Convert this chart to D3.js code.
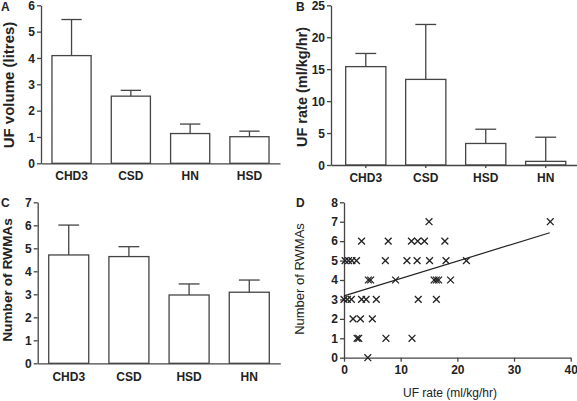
<!DOCTYPE html>
<html><head><meta charset="utf-8">
<script src="https://cdn.jsdelivr.net/npm/d3@7"></script>
<style>
html,body{margin:0;padding:0;background:#fff;}
svg{display:block;font-family:"Liberation Sans",Arial,sans-serif;}
</style></head>
<body>
<svg id="chart" width="577" height="401"></svg>
<script>
// ---- Data ----
const catsA = ["CHD3", "CSD", "HN", "HSD"];
const ufVolume = [4.09, 2.55, 1.13, 1.01];
const ufVolumeErr = [1.37, 0.22, 0.36, 0.21];

const catsB = ["CHD3", "CSD", "HSD", "HN"];
const ufRate = [15.4, 13.4, 3.37, 0.57];
const ufRateErr = [2.06, 8.6, 2.23, 3.78];

const catsC = ["CHD3", "CSD", "HSD", "HN"];
const rwma = [4.71, 4.64, 2.97, 3.09];
const rwmaErr = [1.3, 0.43, 0.48, 0.53];

const scatterX = [15.0, 36.4,
  3.1, 7.8, 11.9, 13.0, 14.2, 17.8,
  0.2, 0.8, 1.4, 2.2, 7.3, 11.1, 12.9, 15.1, 18.0, 21.6,
  4.3, 4.7, 9.1, 15.9, 16.3, 16.7, 18.8,
  0.0, 0.6, 1.3, 3.1, 3.9, 5.7, 13.1, 16.3,
  1.6, 2.9, 5.0,
  2.3, 2.6, 7.4, 12.0,
  4.2];
const scatterY = [7, 7,
  6, 6, 6, 6, 6, 6,
  5, 5, 5, 5, 5, 5, 5, 5, 5, 5,
  4, 4, 4, 4, 4, 4, 4,
  3, 3, 3, 3, 3, 3, 3, 3,
  2, 2, 2,
  1, 1, 1, 1,
  0];
const fitX = [0, 36.3];
const fitY = [3.18, 6.43];

const ticksA = [0, 1, 2, 3, 4, 5, 6];
const ticksB = [0, 5, 10, 15, 20, 25];
const ticksC = [0, 1, 2, 3, 4, 5, 6, 7];
const ticksDy = [0, 1, 2, 3, 4, 5, 6, 7, 8];
const ticksDx = [0, 10, 20, 30, 40];

// ---- Drawing ----
const svg = d3.select("#chart");
svg.append("rect").attr("width", 577).attr("height", 401).attr("fill", "#fff");
const INK = "#222";
const AX = "#444";
const fmt = d3.format("d");

function styleAxis(g, fs) {
  g.selectAll("path.domain").attr("stroke", AX).attr("stroke-width", 1.3);
  g.selectAll(".tick line").attr("stroke", AX).attr("stroke-width", 1.3);
  g.selectAll(".tick text").attr("fill", INK).attr("font-size", fs)
    .attr("font-weight", "bold").attr("font-family", "Liberation Sans, Arial, sans-serif");
}

function barPanel(cfg) {
  const y = d3.scaleLinear().domain([0, cfg.ymax]).range([cfg.y0, cfg.yTop]);
  const x = d3.scaleBand().domain(cfg.cats).range([cfg.x0, cfg.x1])
    .paddingInner(cfg.pin).paddingOuter(cfg.pout);
  const g = svg.append("g");
  const cap = x.bandwidth() * 0.26;
  cfg.cats.forEach((c, i) => {
    const cx = x(c) + x.bandwidth() / 2;
    const top = y(cfg.vals[i] + cfg.errs[i]);
    g.append("line").attr("x1", cx).attr("x2", cx)
      .attr("y1", y(cfg.vals[i])).attr("y2", top)
      .attr("stroke", AX).attr("stroke-width", 1.3);
    g.append("line").attr("x1", cx - cap).attr("x2", cx + cap)
      .attr("y1", top).attr("y2", top)
      .attr("stroke", AX).attr("stroke-width", 1.3);
  });
  g.selectAll("rect.bar").data(cfg.cats).enter().append("rect")
    .attr("x", d => x(d)).attr("width", x.bandwidth())
    .attr("y", (d, i) => y(cfg.vals[i]))
    .attr("height", (d, i) => y(0) - y(cfg.vals[i]))
    .attr("fill", "#fff").attr("stroke", AX).attr("stroke-width", 1.3);
  const ya = g.append("g").attr("transform", `translate(${cfg.x0},0)`)
    .call(d3.axisLeft(y).tickValues(cfg.ticks).tickFormat(fmt).tickSize(4).tickPadding(2).tickSizeOuter(0));
  styleAxis(ya, 12);
  ya.selectAll(".tick text").attr("dy", "0.34em");
  const xa = g.append("g").attr("transform", `translate(0,${cfg.y0})`)
    .call(d3.axisBottom(x).tickSize(cfg.xtick).tickPadding(cfg.xpad - cfg.xtick).tickSizeOuter(0));
  styleAxis(xa, 12);
  g.append("text").attr("transform", `translate(${cfg.titleX},${cfg.titleY}) rotate(-90)`)
    .attr("text-anchor", "middle").attr("font-weight", "bold")
    .attr("font-size", cfg.titleFs).attr("fill", INK).text(cfg.title);
  g.append("text").attr("x", cfg.letterX).attr("y", cfg.letterY)
    .attr("font-weight", "bold").attr("font-size", 12).attr("fill", INK).text(cfg.letter);
}

barPanel({cats: catsA, vals: ufVolume, errs: ufVolumeErr, ymax: 6, ticks: ticksA,
  x0: 41, x1: 280, y0: 163.3, yTop: 5.3, pin: 0.34, pout: 0.185, xtick: 0, xpad: 8,
  title: "UF volume (litres)", titleFs: 15, titleX: 14, titleY: 85,
  letter: "A", letterX: 1, letterY: 11});

barPanel({cats: catsB, vals: ufRate, errs: ufRateErr, ymax: 25, ticks: ticksB,
  x0: 331, x1: 580.5, y0: 165, yTop: 5.3, pin: 0.33, pout: 0.245, xtick: 3, xpad: 8,
  title: "UF rate (ml/kg/hr)", titleFs: 14.5, titleX: 307, titleY: 87,
  letter: "B", letterX: 296, letterY: 11});

barPanel({cats: catsC, vals: rwma, errs: rwmaErr, ymax: 7, ticks: ticksC,
  x0: 37.7, x1: 280.3, y0: 363.3, yTop: 202.3, pin: 0.335, pout: 0.183, xtick: 0, xpad: 9,
  title: "Number of RWMAs", titleFs: 13.7, titleX: 12, titleY: 280,
  letter: "C", letterX: 1, letterY: 207});

// ---- Panel D scatter ----
(function () {
  const x = d3.scaleLinear().domain([0, 40]).range([344, 570.7]);
  const y = d3.scaleLinear().domain([0, 8]).range([357.7, 202.3]);
  const g = svg.append("g");
  const ya = g.append("g").attr("transform", "translate(344,0)")
    .call(d3.axisLeft(y).tickValues(ticksDy).tickFormat(fmt).tickSize(4).tickPadding(2).tickSizeOuter(0));
  styleAxis(ya, 12);
  const xa = g.append("g").attr("transform", "translate(0,357.7)")
    .call(d3.axisBottom(x).tickValues(ticksDx).tickFormat(fmt).tickSize(4).tickPadding(4).tickSizeOuter(0));
  styleAxis(xa, 12);
  const r = 3.4;
  const pts = scatterX.map((v, i) => [x(v), y(scatterY[i])]);
  g.selectAll("path.pt").data(pts).enter().append("path")
    .attr("d", d => `M${d[0]-r},${d[1]-r}L${d[0]+r},${d[1]+r}M${d[0]-r},${d[1]+r}L${d[0]+r},${d[1]-r}`)
    .attr("stroke", INK).attr("stroke-width", 1.3).attr("fill", "none");
  const line = d3.line().x(d => x(d[0])).y(d => y(d[1]));
  g.append("path").attr("d", line(fitX.map((v, i) => [v, fitY[i]])))
    .attr("stroke", INK).attr("stroke-width", 1.2).attr("fill", "none");
  g.append("text").attr("transform", "translate(304,279) rotate(-90)")
    .attr("text-anchor", "middle").attr("font-size", 13).attr("fill", INK).text("Number of RWMAs");
  g.append("text").attr("x", 450).attr("y", 397).attr("text-anchor", "middle")
    .attr("font-size", 12).attr("fill", INK).text("UF rate (ml/kg/hr)");
  g.append("text").attr("x", 296).attr("y", 207)
    .attr("font-weight", "bold").attr("font-size", 12).attr("fill", INK).text("D");
})();
</script>
</body></html>
